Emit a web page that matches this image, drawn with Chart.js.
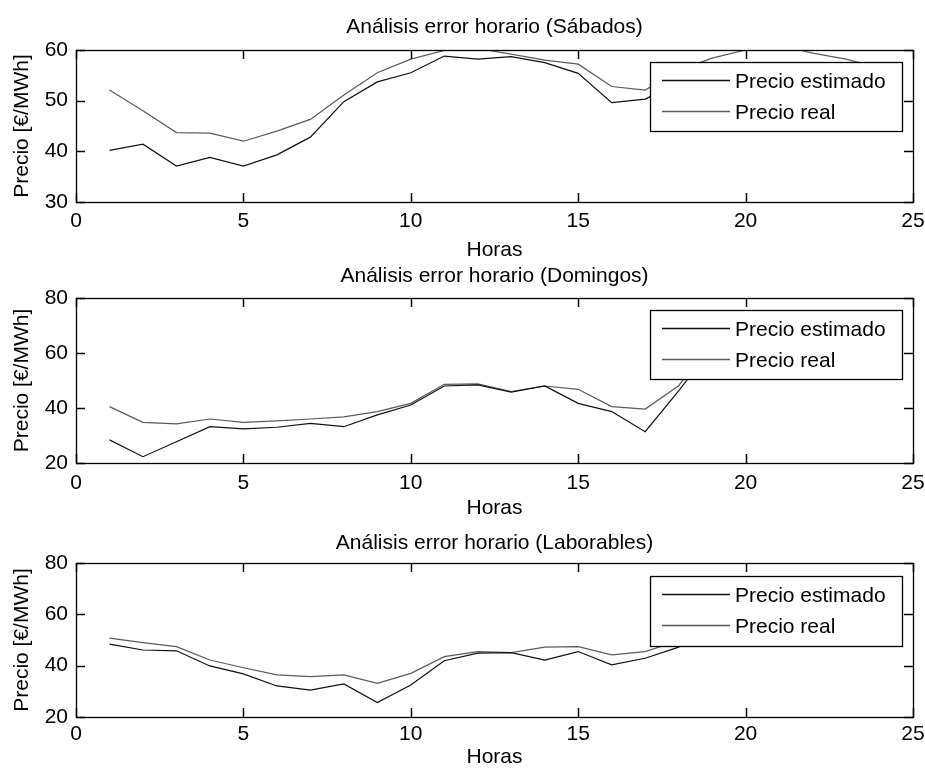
<!DOCTYPE html>
<html><head><meta charset="utf-8">
<script src="https://cdn.jsdelivr.net/npm/chart.js@4.4.1/dist/chart.umd.min.js"></script>
<style>
html,body{margin:0;padding:0;background:#fff;overflow:hidden;width:925px;height:771px;position:relative}
canvas{position:absolute;left:0}
</style></head><body>
<canvas id="c1" width="925" height="270" style="top:0px"></canvas>
<canvas id="c2" width="925" height="275" style="top:255px"></canvas>
<canvas id="c3" width="925" height="270" style="top:515px"></canvas>
<script>
// ---- data ----
const hours = [1,2,3,4,5,6,7,8,9,10,11,12,13,14,15,16,17,18,19,20,21,22,23,24];
const seriesLabels = ['Precio estimado', 'Precio real'];
const xTicks = [0, 5, 10, 15, 20, 25];

const sabTitle = 'Análisis error horario (Sábados)';
const sabEstimado = [40.2,41.4,37.1,38.8,37.1,39.3,42.8,49.8,53.7,55.5,58.8,58.2,58.7,57.5,55.4,49.6,50.3,53.5,55.5,56.5,57.0,56.5,55.0,52.5];
const sabReal     = [52.1,48.0,43.7,43.6,42.0,44.0,46.3,51.1,55.5,58.2,59.9,60.3,59.2,58.0,57.2,52.8,52.1,56.0,58.4,60.0,61.0,59.4,58.2,56.5];
const sabYTicks = [30, 40, 50, 60];

const domTitle = 'Análisis error horario (Domingos)';
const domEstimado = [28.4,22.3,27.7,33.2,32.4,33.0,34.4,33.2,37.5,41.1,48.0,48.4,45.8,48.0,41.7,38.7,31.4,46.2,62.0,63.0,62.0,60.0,58.0,55.0];
const domReal     = [40.5,34.8,34.2,36.0,34.8,35.3,36.0,36.8,38.7,41.7,48.6,48.8,46.0,48.0,46.8,40.5,39.6,48.1,64.0,66.0,65.0,62.0,60.0,57.0];
const domYTicks = [20, 40, 60, 80];

const labTitle = 'Análisis error horario (Laborables)';
const labEstimado = [48.4,46.1,45.8,39.9,36.8,32.1,30.5,32.9,25.6,32.5,41.9,44.9,45.1,42.2,45.5,40.3,42.9,47.2,57.0,59.0,57.0,54.0,52.0,50.0];
const labReal     = [50.7,49.0,47.4,42.2,39.2,36.4,35.7,36.4,33.1,37.0,43.5,45.5,45.1,47.2,47.4,44.2,45.5,49.7,56.0,58.0,57.0,55.0,53.0,50.0];
const labYTicks = [20, 40, 60, 80];

// ---- styling ----
const FONT = '"Liberation Sans", Arial, Helvetica, sans-serif';
const FS = 21;
const TL = 9;
Chart.defaults.font.family = FONT;
Chart.defaults.color = '#000';
const colEst = '#111111';
const colReal = '#5a5a5a';

const framePlugin = {
  id: 'frame',
  afterDraw(chart, args, o) {
    const ctx = chart.ctx;
    const a = chart.chartArea;
    const xs = chart.scales.x, ys = chart.scales.y;
    ctx.save();
    // legend box (inside axes, north-east)
    const bw = 252, bh = o.legH;
    const bx = Math.round(a.right - 11 - bw), by = Math.round(a.top + o.legTop);
    ctx.fillStyle = '#fff';
    ctx.fillRect(bx, by, bw, bh);
    ctx.strokeStyle = '#000';
    ctx.lineWidth = 1.3;
    ctx.strokeRect(bx + 0.5, by + 0.5, bw, bh);
    ctx.font = FS + 'px ' + FONT;
    ctx.textBaseline = 'alphabetic';
    ctx.textAlign = 'left';
    chart.data.datasets.forEach((ds, i) => {
      const ry = by + (i === 0 ? 18.5 : 49.5);
      ctx.strokeStyle = ds.borderColor;
      ctx.lineWidth = 1.3;
      ctx.beginPath();
      ctx.moveTo(bx + 12, ry);
      ctx.lineTo(bx + 80, ry);
      ctx.stroke();
      ctx.fillStyle = '#000';
      ctx.fillText(ds.label, bx + 85, ry + 7.5);
    });
    // axes box
    ctx.strokeStyle = '#000';
    ctx.lineWidth = 1.3;
    const L = Math.round(a.left), R = Math.round(a.right);
    const T = Math.round(a.top), B = Math.round(a.bottom);
    ctx.strokeRect(L + 0.5, T + 0.5, R - L, B - T);
    // inward tick marks on all four sides, placed by the scales
    ctx.fillStyle = '#000';
    xTicks.forEach(v => {
      const px = Math.round(xs.getPixelForValue(v));
      ctx.fillRect(px - 0.25, B - TL, 1.5, TL);
      ctx.fillRect(px - 0.25, T, 1.5, TL);
    });
    o.yTicks.forEach(v => {
      const py = Math.round(ys.getPixelForValue(v));
      ctx.fillRect(L, py - 0.25, TL, 1.5);
      ctx.fillRect(R - TL, py - 0.25, TL, 1.5);
    });
    // title
    ctx.fillStyle = '#000';
    ctx.textAlign = 'center';
    ctx.fillText(o.title, (a.left + a.right) / 2, o.titleBase);
    ctx.restore();
  }
};

function makeChart(id, cfg) {
  const H = document.getElementById(id).height;
  const yt = cfg.yTicks;
  return new Chart(document.getElementById(id), {
    type: 'line',
    data: {
      datasets: [
        { label: seriesLabels[0], data: hours.map((h, i) => ({x: h, y: cfg.est[i]})),
          borderColor: colEst, borderWidth: 1.2, pointRadius: 0, tension: 0, fill: false },
        { label: seriesLabels[1], data: hours.map((h, i) => ({x: h, y: cfg.real[i]})),
          borderColor: colReal, borderWidth: 1.2, pointRadius: 0, tension: 0, fill: false }
      ]
    },
    options: {
      responsive: false,
      animation: false,
      devicePixelRatio: 1,
      layout: { padding: { top: cfg.top, left: 0, right: 12, bottom: 0 } },
      plugins: {
        legend: { display: false },
        tooltip: { enabled: false },
        title: { display: false },
        frame: { title: cfg.title, titleBase: cfg.titleBase, legTop: cfg.legTop, legH: cfg.legH, yTicks: yt }
      },
      scales: {
        x: {
          type: 'linear', min: xTicks[0], max: xTicks[xTicks.length - 1],
          grid: { display: false, drawTicks: false },
          border: { display: false },
          ticks: { stepSize: xTicks[1] - xTicks[0], maxRotation: 0, padding: cfg.xPad, color: '#000',
                   font: { size: FS, lineHeight: 1 } },
          title: { display: true, text: 'Horas', color: '#000',
                   font: { size: FS, lineHeight: 1 }, padding: { top: 0, bottom: cfg.hPad } },
          afterFit: s => { s.height = H - cfg.bottom; s.paddingLeft = 0; s.paddingRight = 0; }
        },
        y: {
          type: 'linear', min: yt[0], max: yt[yt.length - 1],
          grid: { display: false, drawTicks: false },
          border: { display: false },
          ticks: { stepSize: yt[1] - yt[0], padding: 8, color: '#000',
                   font: { size: FS, lineHeight: 1 } },
          title: { display: true, text: 'Precio [€/MWh]', color: '#000',
                   font: { size: FS, lineHeight: 1 }, padding: { top: 11.5, bottom: 0 } },
          afterFit: s => { s.width = 76; s.paddingTop = 0; s.paddingBottom = 0; }
        }
      }
    },
    plugins: [framePlugin]
  });
}

makeChart('c1', { title: sabTitle, est: sabEstimado, real: sabReal, yTicks: sabYTicks,
  top: 50, bottom: 202, xPad: 9, hPad: 9.5, titleBase: 33.3, legTop: 12, legH: 69 });
makeChart('c2', { title: domTitle, est: domEstimado, real: domReal, yTicks: domYTicks,
  top: 43, bottom: 208, xPad: 9.5, hPad: 11, titleBase: 27, legTop: 12, legH: 69 });
makeChart('c3', { title: labTitle, est: labEstimado, real: labReal, yTicks: labYTicks,
  top: 48, bottom: 202, xPad: 7, hPad: 17, titleBase: 34, legTop: 13, legH: 70 });
</script>
</body></html>
